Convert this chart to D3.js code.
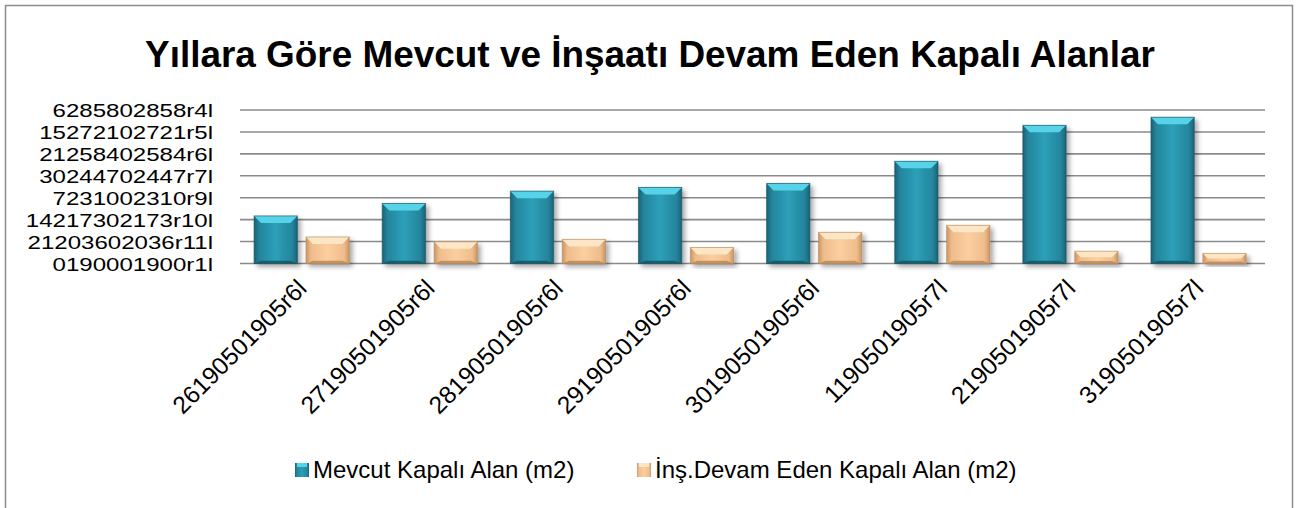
<!DOCTYPE html>
<html><head><meta charset="utf-8">
<script src="https://cdnjs.cloudflare.com/ajax/libs/d3/7.8.5/d3.min.js"></script>
<style>body{margin:0;background:#fff}svg{display:block}</style>
</head><body><svg id="c" width="1297" height="508"></svg>
<script>
const categories = ["26190501905r6l","27190501905r6l","28190501905r6l","29190501905r6l","30190501905r6l","1190501905r7l","2190501905r7l","3190501905r7l"];
const mevcut = [2.17, 2.74, 3.30, 3.47, 3.65, 4.66, 6.30, 6.67];
const insaat = [1.21, 0.99, 1.10, 0.73, 1.42, 1.74, 0.56, 0.46];
const tickLabels = ["0190001900r1l","21203602036r11l","14217302173r10l","7231002310r9l","30244702447r7l","21258402584r6l","15272102721r5l","6285802858r4l"];
const seriesNames = ["Mevcut Kapalı Alan (m2)","İnş.Devam Eden Kapalı Alan (m2)"];
const title = "Yıllara Göre Mevcut ve İnşaatı Devam Eden Kapalı Alanlar";

const svg = d3.select("#c");
const font = "'Liberation Sans', Arial, sans-serif";
const defs = svg.append("defs");
function grad(id, stops){
  const g = defs.append("linearGradient").attr("id", id).attr("x1","0").attr("x2","1").attr("y1","0").attr("y2","0");
  stops.forEach(s=>g.append("stop").attr("offset",s[0]).attr("stop-color",s[1]));
}
grad("gb", [[0,"#1c6275"],[0.12,"#24859c"],[0.5,"#2ba0b8"],[0.88,"#24859c"],[1,"#1c6275"]]);
grad("go", [[0,"#c99566"],[0.12,"#efbd8c"],[0.5,"#fccf9f"],[0.88,"#efbd8c"],[1,"#c99566"]]);
const f = defs.append("filter").attr("id","sh").attr("x","-20%").attr("y","-20%").attr("width","150%").attr("height","150%");
f.append("feGaussianBlur").attr("in","SourceAlpha").attr("stdDeviation",2.5);
f.append("feOffset").attr("dx",3).attr("dy",3).attr("result","o");
f.append("feComponentTransfer").append("feFuncA").attr("type","linear").attr("slope",0.35);
const m = f.append("feMerge"); m.append("feMergeNode"); m.append("feMergeNode").attr("in","SourceGraphic");

// outer border
svg.append("rect").attr("x",5.5).attr("y",5.5).attr("width",1287).attr("height",520)
  .attr("fill","#fff").attr("stroke","#8c8c8c").attr("stroke-width",1.5);

// title
const t = svg.append("text").attr("x",650).attr("y",67).attr("text-anchor","middle")
  .attr("font-family",font).attr("font-weight","bold").attr("font-size",36).attr("fill","#000").text(title);
const tw = t.node().getComputedTextLength();
t.attr("font-size", 36*1010/tw);

const x0 = d3.scaleBand().domain(categories).range([240,1265]).padding(0);
const y = d3.scaleLinear().domain([0,7]).range([263.5,110]);

// gridlines
const yAxis = d3.axisLeft(y).tickValues(d3.range(0,8)).tickFormat(i=>tickLabels[i]).tickSize(0).tickPadding(27);
svg.append("g").selectAll("line").data(d3.range(0,8)).join("line")
  .attr("x1",240).attr("x2",1265).attr("y1",d=>y(d)).attr("y2",d=>y(d))
  .attr("stroke","#8a8a8a").attr("stroke-width",1.6);
const ga = svg.append("g").attr("transform","translate(240,0)").call(yAxis);
ga.select(".domain").remove();
ga.selectAll("text").attr("font-family",font).attr("font-size",18.5).attr("fill","#000").attr("dy","0.36em")
  .each(function(){ const w=this.getComputedTextLength(); d3.select(this).attr("textLength", w*1.3).attr("lengthAdjust","spacingAndGlyphs"); });

const bw = x0.bandwidth();
const barW = bw*0.338;
function drawBars(vals, off, gid, top, side){
  const g = svg.append("g");
  vals.forEach((v,i)=>{
    const x = x0(categories[i]) + off*bw;
    const yt = y(v), yb = y(0);
    const h = yb-yt;
    const b = Math.min(7, h/2);
    const gg = g.append("g").attr("filter","url(#sh)");
    gg.append("rect").attr("x",x).attr("y",yt).attr("width",barW).attr("height",h).attr("fill",`url(#${gid})`);
    gg.append("polygon").attr("points",[[x,yt],[x+barW,yt],[x+barW-b,yt+b],[x+b,yt+b]].map(p=>p.join(",")).join(" ")).attr("fill",top);
    gg.append("polygon").attr("points",[[x,yb],[x+barW,yb],[x+barW-b,yb-b*0.4],[x+b,yb-b*0.4]].map(p=>p.join(",")).join(" ")).attr("fill",side).attr("opacity",0.8);
    gg.append("rect").attr("x",x).attr("y",yt).attr("width",barW).attr("height",h).attr("fill","none").attr("stroke",side).attr("stroke-width",1).attr("opacity",0.6);
  });
}
drawBars(mevcut, 0.11, "gb", "#56d3e8", "#15505f");
drawBars(insaat, 0.515, "go", "#fde6c6", "#b98556");

// x labels
svg.append("g").selectAll("text").data(categories).join("text")
  .attr("transform",d=>`translate(${x0(d)+bw/2+4},${290}) rotate(-45)`)
  .attr("text-anchor","end").attr("font-family",font).attr("font-size",24.5).attr("fill","#000").text(d=>d);

// legend
const lg = svg.append("g");
const lx = [295, 637];
const lgr = ["gb","go"], ltop = ["#56d3e8","#fde6c6"];
seriesNames.forEach((s,i)=>{
  lg.append("rect").attr("x",lx[i]).attr("y",463).attr("width",14).attr("height",14).attr("fill",`url(#${lgr[i]})`);
  lg.append("rect").attr("x",lx[i]+2).attr("y",463).attr("width",10).attr("height",4).attr("fill",ltop[i]);
  lg.append("text").attr("x",lx[i]+18).attr("y",478).attr("font-family",font).attr("font-size",24).attr("fill","#000").text(s);
});
</script></body></html>
